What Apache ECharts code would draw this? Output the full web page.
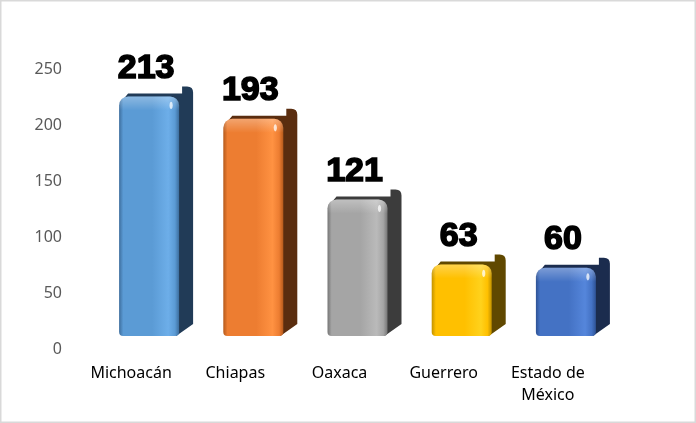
<!DOCTYPE html>
<html>
<head>
<meta charset="utf-8">
<script src="https://cdn.jsdelivr.net/npm/echarts@6/dist/echarts.min.js"></script>
<style>
html,body{margin:0;padding:0;background:#fff;}
#chart{width:696px;height:423px;}
</style>
</head>
<body>
<div id="chart"></div>
<script>
const categories = ['Michoacán', 'Chiapas', 'Oaxaca', 'Guerrero', 'Estado de\nMéxico'];
const values = [213, 193, 121, 63, 60];
const yTicks = [0, 50, 100, 150, 200, 250];

const baseColors = ['#5B9BD5', '#ED7D31', '#A5A5A5', '#FFC000', '#4472C4'];
const edgeColors = ['#3D6E9E', '#B55A1C', '#767676', '#C29200', '#2E5294'];
const lightColors = ['#6DAEE9', '#FF9242', '#BABABA', '#FFD21C', '#5586DB'];
const sideColors = ['#213B57', '#5A2D0F', '#3C3C3C', '#604800', '#1B2C4E'];

const chart = echarts.init(document.getElementById('chart'));

function renderBar(params, api) {
  const i = api.value(0);
  const v = api.value(1);
  const p = api.coord([i, v]);
  const p0 = api.coord([i, 0]);
  const lift = 13, w = 60, dx = 14, dy = 12;
  const cx = p[0] + 18;
  const x0 = cx - w / 2, x1 = cx + w / 2;
  const yT = p[1] - lift - 1, yB = p0[1] - lift;
  const sidePath =
    'M' + (x0 + 4) + ',' + (yT + 3) +
    ' L' + (x0 + 9) + ',' + (yT - 3) +
    ' L' + (x1 + 3) + ',' + (yT - 3) +
    ' L' + (x1 + 3) + ',' + (yT - dy + 2) +
    ' L' + (x1 + dx - 6) + ',' + (yT - dy + 2) +
    ' Q' + (x1 + dx) + ',' + (yT - dy + 2) + ' ' + (x1 + dx) + ',' + (yT - dy + 8) +
    ' L' + (x1 + dx) + ',' + (yB - dy) +
    ' L' + (x1 - 3) + ',' + yB + ' Z';
  return {
    type: 'group',
    children: [
      { type: 'path', shape: { pathData: sidePath }, style: { fill: sideColors[i] } },
      {
        type: 'rect',
        shape: { x: x0, y: yT, width: w, height: yB - yT, r: [9, 9, 4, 4] },
        style: {
          fill: new echarts.graphic.LinearGradient(0, 0, 1, 0, [
            { offset: 0, color: edgeColors[i] },
            { offset: 0.07, color: baseColors[i] },
            { offset: 0.55, color: baseColors[i] },
            { offset: 0.82, color: lightColors[i] },
            { offset: 0.93, color: baseColors[i] },
            { offset: 1, color: edgeColors[i] }
          ])
        }
      },
      {
        type: 'rect',
        shape: { x: x0, y: yT, width: w, height: 14, r: [9, 9, 0, 0] },
        style: {
          fill: new echarts.graphic.LinearGradient(0, 0, 0, 1, [
            { offset: 0, color: 'rgba(255,255,255,0.3)' },
            { offset: 1, color: 'rgba(255,255,255,0)' }
          ])
        }
      },
      {
        type: 'ellipse',
        shape: { cx: x1 - 8, cy: yT + 9, rx: 1.6, ry: 3.6 },
        style: { fill: 'rgba(255,255,255,0.75)' }
      },
      {
        type: 'text',
        style: {
          text: String(v),
          x: cx - 3,
          y: yT - 11,
          align: 'center',
          verticalAlign: 'bottom',
          font: 'bold 34px "Liberation Sans", Arial, sans-serif',
          fill: '#000',
          stroke: '#000',
          lineWidth: 1.6
        }
      }
    ]
  };
}

chart.setOption({
  animation: false,
  backgroundColor: '#fff',
  graphic: [{
    type: 'rect',
    shape: { x: 0.75, y: 0.75, width: 694.5, height: 421.5 },
    style: { fill: 'none', stroke: '#D9D9D9', lineWidth: 1.5 },
    silent: true
  }],
  grid: { left: 79, right: 96, top: 69, bottom: 74 },
  xAxis: {
    type: 'category',
    data: categories,
    axisLine: { show: false },
    axisTick: { show: false },
    axisLabel: {
      color: '#000',
      fontSize: 16,
      fontFamily: '"Noto Sans", "Open Sans", sans-serif',
      margin: 13,
      lineHeight: 22,
      interval: 0
    }
  },
  yAxis: {
    type: 'value',
    min: yTicks[0],
    max: yTicks[yTicks.length - 1],
    interval: yTicks[1] - yTicks[0],
    axisLine: { show: false },
    axisTick: { show: false },
    splitLine: { show: false },
    axisLabel: {
      color: '#595959',
      fontSize: 16,
      fontFamily: '"Noto Sans", "Open Sans", sans-serif',
      margin: 17
    }
  },
  series: [{
    type: 'custom',
    renderItem: renderBar,
    clip: false,
    encode: { x: 0, y: 1 },
    data: values.map((v, i) => [i, v])
  }]
});
</script>
</body>
</html>
